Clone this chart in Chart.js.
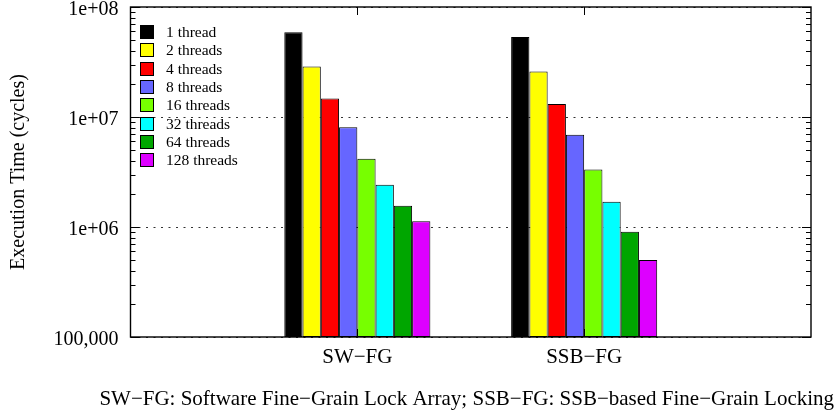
<!DOCTYPE html>
<html>
<head>
<meta charset="utf-8">
<title>Execution Time</title>
<script src="https://cdn.jsdelivr.net/npm/chart.js@4/dist/chart.umd.min.js"></script>
<style>
  html, body { margin: 0; padding: 0; background: #fff; }
  #chart { display: block; }
</style>
</head>
<body>
<canvas id="chart" width="839" height="414"></canvas>
<script>
// Lock schemes on the x axis
const categories = ['SW\u2212FG', 'SSB\u2212FG'];

// One series per thread count
const threadLabels = ['1 thread', '2 threads', '4 threads', '8 threads',
                      '16 threads', '32 threads', '64 threads', '128 threads'];
const threadColors = ['#000000', '#ffff00', '#ff0000', '#6666ff',
                      '#77ff00', '#00ffff', '#00a600', '#dd00ff'];

// Execution time in cycles, indexed like threadLabels
const swfgCycles  = [5.9e7, 2.88e7, 1.47e7, 8.05e6, 4.17e6, 2.42e6, 1.56e6, 1.13e6];
const ssbfgCycles = [5.33e7, 2.59e7, 1.31e7, 6.9e6, 3.33e6, 1.70e6, 9.07e5, 5.0e5];

// Major y ticks (decades) and how they are printed
const yTickValues = [1e5, 1e6, 1e7, 1e8];
const yTickLabels = ['100,000', '1e+06', '1e+07', '1e+08'];

const footerText = 'SW\u2212FG: Software Fine\u2212Grain Lock Array; SSB\u2212FG: SSB\u2212based Fine\u2212Grain Locking';
const serif = '"Liberation Serif", "Times New Roman", serif';

// empty slots on each side give the gnuplot-style margins
const xLabels = ['', ...categories, ''];

const datasets = threadLabels.map((label, i) => ({
    label: label,
    data: [null, swfgCycles[i], ssbfgCycles[i], null],
    backgroundColor: threadColors[i],
    borderColor: '#000',
    borderWidth: 1,
    borderSkipped: false,
    categoryPercentage: 0.644,
    barPercentage: 1.0
}));

// frame with inward ticks on all four sides
const frameTicks = {
    id: 'frameTicks',
    afterDatasetsDraw(chart) {
        const { ctx, chartArea: a, scales: { x, y } } = chart;
        ctx.save();
        ctx.strokeStyle = '#000';
        ctx.lineWidth = 1;
        ctx.beginPath();
        for (let e = 5; e <= 8; e++) {
            for (let m = 1; m <= 9; m++) {
                const v = m * Math.pow(10, e);
                if (v > 1e8) break;
                const py = Math.round(y.getPixelForValue(v)) + 0.5;
                const len = m === 1 ? 9 : 5;
                ctx.moveTo(a.left, py);
                ctx.lineTo(a.left + len, py);
                ctx.moveTo(a.right, py);
                ctx.lineTo(a.right - len, py);
            }
        }
        categories.forEach((c, i) => {
            const px = Math.round(x.getPixelForValue(i + 1)) + 0.5;
            ctx.moveTo(px, a.top);
            ctx.lineTo(px, a.top + 8);
            ctx.moveTo(px, a.bottom);
            ctx.lineTo(px, a.bottom - 8);
        });
        ctx.stroke();
        ctx.lineWidth = 1.4;
        ctx.strokeRect(a.left, a.top, a.right - a.left, a.bottom - a.top);
        ctx.restore();
    }
};

// key in the upper-left corner of the plot, plus the footnote under the axis
const boxLegend = {
    id: 'boxLegend',
    afterDraw(chart) {
        const { ctx, chartArea: a } = chart;
        ctx.save();
        ctx.font = '15.5px ' + serif;
        ctx.textBaseline = 'middle';
        ctx.textAlign = 'left';
        chart.data.datasets.forEach((ds, i) => {
            const bx = Math.round(a.left + 9);
            const by = Math.round(a.top + 18 + i * 18.33);
            ctx.fillStyle = ds.backgroundColor;
            ctx.fillRect(bx, by, 14, 14);
            ctx.strokeStyle = '#000';
            ctx.lineWidth = 1;
            ctx.strokeRect(bx + 0.5, by + 0.5, 13, 13);
            ctx.fillStyle = '#000';
            ctx.fillText(ds.label, a.left + 35.5, by + 7.5);
        });

        ctx.font = '21px ' + serif;
        ctx.textAlign = 'center';
        ctx.fillText(footerText, (a.left + a.right) / 2 - 4, 399);
        ctx.restore();
    }
};

new Chart(document.getElementById('chart'), {
    type: 'bar',
    data: { labels: xLabels, datasets: datasets },
    plugins: [frameTicks, boxLegend],
    options: {
        responsive: false,
        animation: false,
        layout: { padding: { left: 0, right: 28, top: 7, bottom: 0 } },
        plugins: {
            legend: { display: false },
            tooltip: { enabled: false }
        },
        scales: {
            x: {
                type: 'category',
                offset: false,
                grid: { display: false, drawTicks: false },
                border: { display: false },
                ticks: {
                    color: '#000',
                    font: { family: serif, size: 21 },
                    padding: 8,
                    maxRotation: 0,
                    autoSkip: false
                },
                afterFit(scale) {
                    scale.height = 77;
                    scale.paddingLeft = 0;
                    scale.paddingRight = 0;
                }
            },
            y: {
                type: 'logarithmic',
                min: 1e5,
                max: 1e8,
                afterBuildTicks(scale) {
                    scale.ticks = yTickValues.map(v => ({ value: v }));
                },
                grid: {
                    color: '#333',
                    lineWidth: 1,
                    drawTicks: false
                },
                border: { display: false, dash: [2, 5.5] },
                ticks: {
                    color: '#000',
                    font: { family: serif, size: 20 },
                    padding: 12,
                    labelOffset: 3,
                    callback: (value) => {
                        const i = yTickValues.indexOf(value);
                        return i >= 0 ? yTickLabels[i] : '';
                    }
                },
                title: {
                    display: true,
                    text: 'Execution Time (cycles)',
                    color: '#000',
                    font: { family: serif, size: 20 },
                    padding: { top: 7, bottom: 0 }
                },
                afterFit(scale) {
                    scale.width = 130.5;
                    scale.paddingTop = 0;
                    scale.paddingBottom = 0;
                }
            }
        }
    }
});
</script>
</body>
</html>
